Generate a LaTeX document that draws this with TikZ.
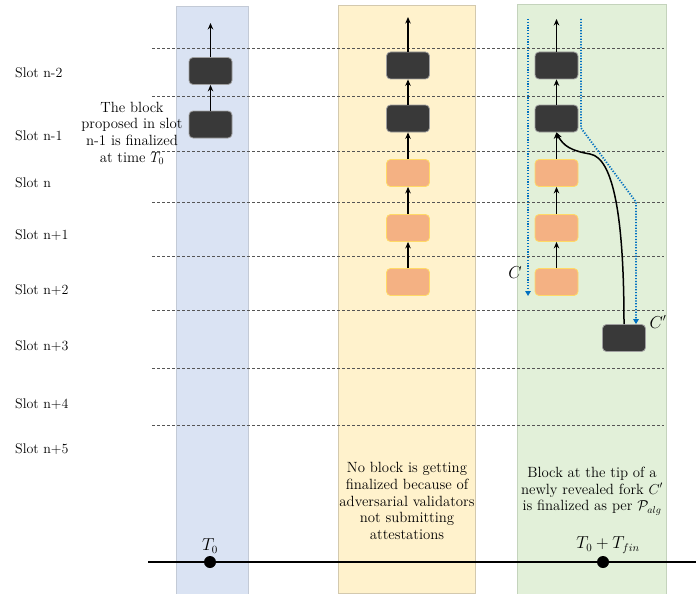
\documentclass[tikz,border=0pt]{standalone}
\usetikzlibrary{arrows.meta}
\definecolor{colB}{HTML}{DAE3F3}
\definecolor{colBd}{HTML}{C3CAD6}
\definecolor{colY}{HTML}{FFF2CC}
\definecolor{colYd}{HTML}{D3C9AE}
\definecolor{colG}{HTML}{E2F0D9}
\definecolor{colGd}{HTML}{C4D3BC}
\definecolor{blkfill}{HTML}{393939}
\definecolor{orgfill}{HTML}{F4B183}
\definecolor{orgedge}{HTML}{FFD966}
\definecolor{dotblue}{HTML}{0070C0}
\definecolor{dashgray}{HTML}{555555}
\begin{document}
\begin{tikzpicture}[x=1pt,y=-1pt,
  blackblk/.style={rounded corners=4pt, fill=blkfill, draw=gray!75, line width=0.8pt,
    minimum width=43pt, minimum height=27pt, inner sep=0pt},
  orangeblk/.style={rounded corners=4pt, fill=orgfill, draw=orgedge, line width=0.8pt,
    minimum width=43pt, minimum height=27pt, inner sep=0pt},
  chain/.style={-{Stealth[length=6.5pt,width=5.5pt]}, line width=1.5pt},
  slotline/.style={draw=dashgray, dash pattern=on 3pt off 2pt, line width=0.6pt},
  bluedot/.style={draw=dotblue, dash pattern=on 1.2pt off 1.6pt, line width=1.8pt, -{Triangle[length=5pt,width=5.5pt]}},
  slotlabel/.style={anchor=west, inner sep=0pt, font=\fontsize{14}{16}\selectfont},
  note/.style={align=center, inner sep=0pt, font=\fontsize{14.8}{16.7}\selectfont},
  mathlabel/.style={inner sep=0pt, font=\fontsize{16}{18}\selectfont},
  tdot/.style={circle, fill=black, inner sep=0pt, minimum size=12pt}]
\useasboundingbox (0,0) rectangle (696,594);
% columns
\path[fill=colB, draw=colBd] (176,6) rectangle (248,596);
\path[fill=colY, draw=colYd] (338,5) rectangle (475,593);
\path[fill=colG, draw=colGd] (517,4) rectangle (666,596);
% slot lines
\foreach \yy in {48,96,151,202,256,310,368,425}
  \draw[slotline] (152,\yy) -- (664,\yy);
% slot labels
\node[slotlabel] (s1) at (15,73) {Slot n-2};
\node[slotlabel] (s2) at (15,136) {Slot n-1};
\node[slotlabel] (s3) at (15,183) {Slot n};
\node[slotlabel] (s4) at (15,235) {Slot n+1};
\node[slotlabel] (s5) at (15,290) {Slot n+2};
\node[slotlabel] (s6) at (15,346) {Slot n+3};
\node[slotlabel] (s7) at (15,404) {Slot n+4};
\node[slotlabel] (s8) at (15,449) {Slot n+5};
% column 1
\node[blackblk] (a1) at (210.5,71) {};
\node[blackblk] (a2) at (210.5,124.5) {};
\coordinate (a0) at (210.5,23);
\draw[chain] (a1) -- (a0);
\draw[chain] (a2) -- (a1);
\node[note] (n1) at (132,133) {The block\\proposed in slot\\n-1 is finalized\\at time $T_0$};
% column 2
\node[blackblk] (b1) at (408,65.5) {};
\node[blackblk] (b2) at (408,118.5) {};
\node[orangeblk] (b3) at (408,173) {};
\node[orangeblk] (b4) at (408,228) {};
\node[orangeblk] (b5) at (408,282) {};
\coordinate (b0) at (408,17);
\draw[chain] (b1) -- (b0);
\draw[chain] (b2) -- (b1);
\draw[chain] (b3) -- (b2);
\draw[chain] (b4) -- (b3);
\draw[chain] (b5) -- (b4);
\node[note] (n2) at (407,501) {No block is getting\\finalized because of\\adversarial validators\\not submitting\\attestations};
% column 3
\node[blackblk] (c1) at (556.5,65.5) {};
\node[blackblk] (c2) at (556.5,118.5) {};
\node[orangeblk] (c3) at (556.5,173) {};
\node[orangeblk] (c4) at (556.5,228) {};
\node[orangeblk] (c5) at (556.5,282) {};
\node[blackblk] (cp) at (624,338) {};
\coordinate (c0) at (556.5,19);
\draw[chain] (c1) -- (c0);
\draw[chain] (c2) -- (c1);
\draw[chain] (c3) -- (c2);
\draw[chain] (c4) -- (c3);
\draw[chain] (c5) -- (c4);
\draw[chain] (cp.north) .. controls (624,220) and (614,158) .. (590,154)
  .. controls (572,151) and (563,146) .. (c2.south);
\coordinate (dl1) at (528,19);
\coordinate (dl2) at (528,296);
\draw[bluedot] (dl1) -- (dl2);
\coordinate (dr1) at (581,19);
\coordinate (dr2) at (581,128);
\coordinate (dr3) at (636,202);
\draw[bluedot] (dr1) -- (dr2) -- (dr3) -- (dr3 |- cp.north);
\node[mathlabel] (lc) at (515,273) {$C$};
\node[mathlabel] (lcp) at (658,322) {$C'$};
\node[note] (n3) at (592,491) {Block at the tip of a\\newly revealed fork $C'$\\is finalized as per $\mathcal{P}_{alg}$};
% time axis
\coordinate (ax0) at (148,562);
\coordinate (ax1) at (696,562);
\draw[line width=2pt] (ax0) -- (ax1);
\node[tdot] (t0) at (210,562) {};
\node[tdot] (t1) at (603,562) {};
\node[mathlabel] (lt0) at (210,546) {$T_0$};
\node[mathlabel] (lt1) at (608,545) {$T_0+T_{fin}$};
\end{tikzpicture}
\end{document}
